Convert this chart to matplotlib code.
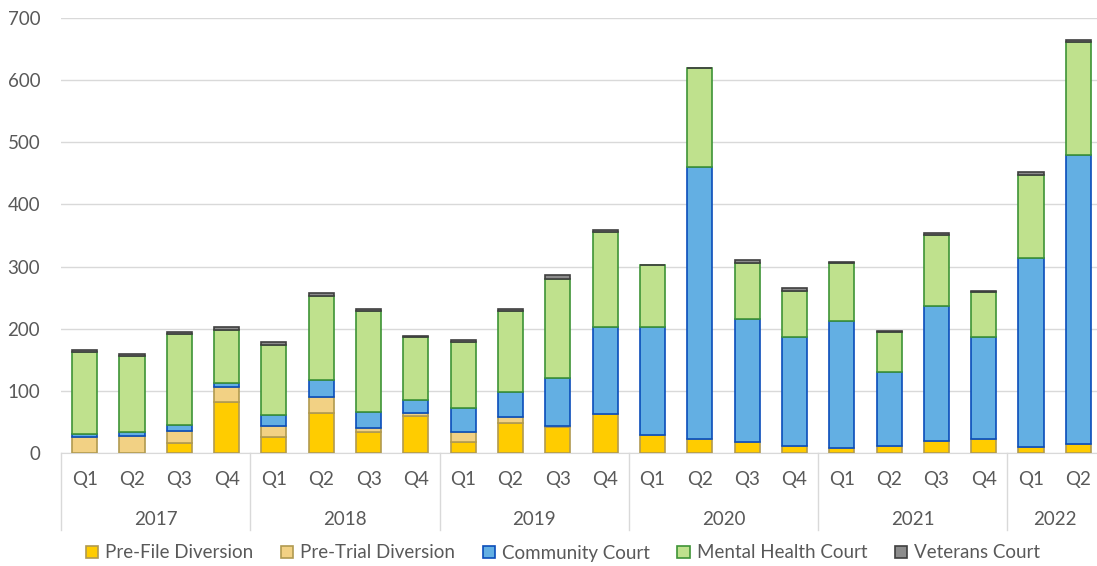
import matplotlib

matplotlib.use("Agg")
import matplotlib.pyplot as plt
import numpy as np

# Quarterly counts by program, 2017 Q1 .. 2022 Q2
years = ["2017", "2018", "2019", "2020", "2021", "2022"]
quarters = ["Q1", "Q2", "Q3", "Q4"] * 5 + ["Q1", "Q2"]

pre_file = [0, 0, 16, 82, 25, 65, 34, 59, 17, 48, 42, 62,
            29, 22, 17, 12, 8, 11, 20, 22, 9, 14]
pre_trial = [25, 28, 19, 24, 19, 25, 6, 6, 17, 10, 1, 1,
             0, 0, 0, 0, 0, 0, 0, 0, 0, 0]
community = [6, 6, 10, 6, 17, 27, 26, 20, 38, 40, 78, 140,
             173, 439, 199, 175, 205, 120, 217, 164, 305, 466]
mental_health = [131, 122, 146, 86, 113, 136, 163, 101, 107, 131, 159, 152,
                 101, 158, 90, 73, 92, 63, 114, 73, 133, 181]
veterans = [4, 3, 3, 4, 4, 4, 3, 3, 3, 3, 6, 4,
            0, 0, 4, 5, 3, 3, 3, 2, 5, 3]

series = [
    ("Pre-File Diversion", pre_file, "#FFCC00", "#B09A50"),
    ("Pre-Trial Diversion", pre_trial, "#F2D184", "#B09A50"),
    ("Community Court", community, "#63AFE3", "#0A4DBA"),
    ("Mental Health Court", mental_health, "#BFE18D", "#3E9436"),
    ("Veterans Court", veterans, "#8C8C8C", "#3F3F3F"),
]

plt.rcParams["font.family"] = ["Lato", "DejaVu Sans"]
text_col = "#595959"
grid_col = "#D9D9D9"
fs = 13.5

W, H = 1097, 566
fig = plt.figure(figsize=(W / 100, H / 100), dpi=100)
# axes runs slightly past the right edge, as in the original
ax = fig.add_axes([61 / W, 113 / H, 1041 / W, 435 / H])

x = np.arange(len(quarters))
bottom = np.zeros(len(quarters))
handles = []
for label, vals, fc, ec in series:
    vals = np.array(vals, dtype=float)
    b = ax.bar(x, vals, 0.53, bottom=bottom, color=fc, edgecolor=ec,
               linewidth=1.2, label=label, zorder=3)
    handles.append(b)
    bottom += vals

ax.set_xlim(-0.5, len(quarters) - 0.5)
ax.set_ylim(0, 700)
ax.set_yticks(range(0, 701, 100))
ax.grid(axis="y", color=grid_col, linewidth=1, zorder=0)
for s in ["top", "right", "left"]:
    ax.spines[s].set_visible(False)
ax.spines["bottom"].set_color(grid_col)
ax.tick_params(axis="y", length=0, pad=15, labelsize=fs, labelcolor=text_col)
ax.set_xticks([])

# quarter labels, year group labels and separators below the axis
tr = ax.get_xaxis_transform()
for i, q in enumerate(quarters):
    ax.text(i, -0.061, q, transform=tr, ha="center", va="center",
            fontsize=fs, color=text_col)

counts = [4, 4, 4, 4, 4, 2]
start = 0
for yr, n in zip(years, counts):
    left = start - 0.5
    ax.plot([left, left], [0, -0.177], transform=tr,
            color=grid_col, linewidth=1, clip_on=False)
    ax.text(start + (n - 1) / 2, -0.152, yr, transform=tr,
            ha="center", va="center", fontsize=fs, color=text_col)
    start += n
ax.plot([start - 0.5] * 2, [0, -0.177], transform=tr,
        color=grid_col, linewidth=1, clip_on=False)

leg = fig.legend(handles=handles, loc="center", bbox_to_anchor=(563 / W, 1 - 553 / H),
                 ncol=5, frameon=False, fontsize=fs, handlelength=0.65,
                 handleheight=0.65, handletextpad=0.4, columnspacing=1.45)
for t in leg.get_texts():
    t.set_color(text_col)

fig.savefig("out.png", dpi=100)
